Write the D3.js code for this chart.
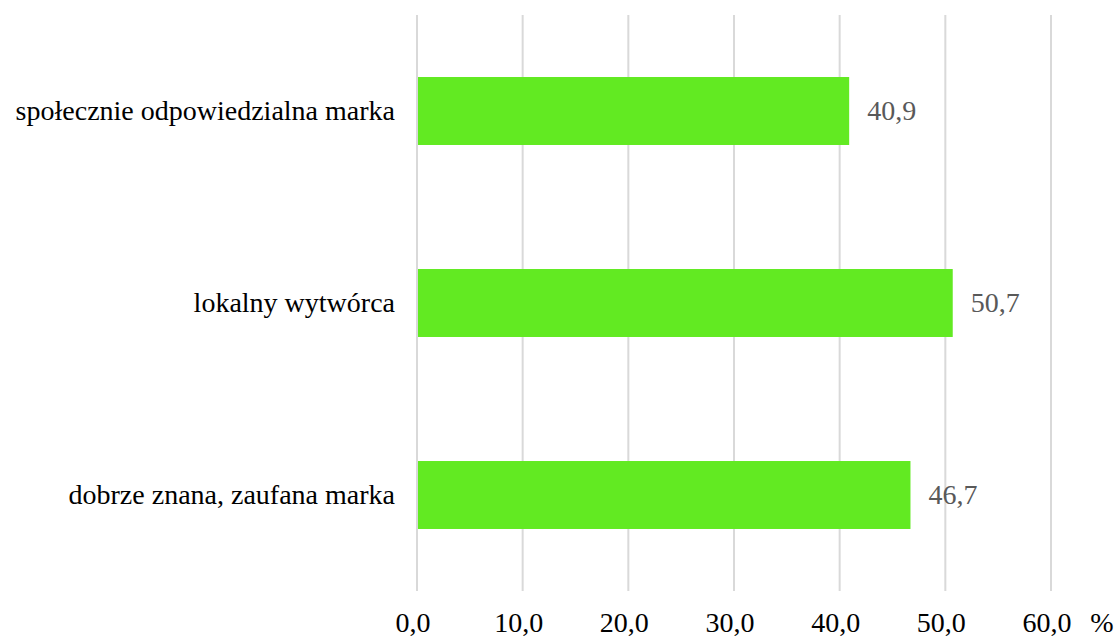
<!DOCTYPE html>
<html>
<head>
<meta charset="utf-8">
<script src="https://cdn.jsdelivr.net/npm/d3@7"></script>
<style>
  body { margin: 0; background: #fff; }
  svg text { font-family: 'Liberation Serif', 'Times New Roman', serif; }
</style>
</head>
<body>
<div id="chart"></div>
<script>
// data
const categories = ["społecznie odpowiedzialna marka", "lokalny wytwórca", "dobrze znana, zaufana marka"];
const values = [40.9, 50.7, 46.7];
const ticks = [0, 10, 20, 30, 40, 50, 60];

const width = 1114, height = 639;

const svg = d3.select("#chart")
  .append("svg")
  .attr("width", width)
  .attr("height", height);

const x = d3.scaleLinear().domain([0, 60]).range([417, 1051]);
const y = d3.scaleBand()
  .domain(categories)
  .range([15, 591])
  .paddingInner(0.646)
  .paddingOuter(0.323);

// gridlines
svg.append("g")
  .selectAll("line")
  .data(ticks)
  .join("line")
  .attr("x1", (d) => x(d))
  .attr("x2", (d) => x(d))
  .attr("y1", 15)
  .attr("y2", 591)
  .attr("stroke", "#d9d9d9")
  .attr("stroke-width", 2);

// tick labels
svg.append("g")
  .selectAll("text")
  .data(ticks)
  .join("text")
  .attr("x", (d) => x(d) - 4)
  .attr("y", 632)
  .attr("text-anchor", "middle")
  .attr("font-size", 28)
  .attr("fill", "#000")
  .text((d) => d.toFixed(1).replace(".", ","));

svg.append("text")
  .attr("x", 1102)
  .attr("y", 632)
  .attr("text-anchor", "middle")
  .attr("font-size", 28)
  .text("%");

const rows = categories.map((c, i) => ({ cat: c, val: values[i] }));

// bars
svg.append("g")
  .selectAll("rect")
  .data(rows)
  .join("rect")
  .attr("x", x(0) + 1)
  .attr("y", (d) => y(d.cat))
  .attr("width", (d) => x(d.val) - x(0) - 1)
  .attr("height", y.bandwidth())
  .attr("fill", "#62ea22");

// category labels
svg.append("g")
  .selectAll("text")
  .data(rows)
  .join("text")
  .attr("x", 395)
  .attr("y", (d) => y(d.cat) + y.bandwidth() / 2)
  .attr("dy", "0.32em")
  .attr("text-anchor", "end")
  .attr("font-size", 28)
  .attr("fill", "#000")
  .text((d) => d.cat);

// value labels
svg.append("g")
  .selectAll("text")
  .data(rows)
  .join("text")
  .attr("x", (d) => x(d.val) + 18)
  .attr("y", (d) => y(d.cat) + y.bandwidth() / 2)
  .attr("dy", "0.32em")
  .attr("font-size", 28)
  .attr("fill", "#595959")
  .text((d) => d.val.toFixed(1).replace(".", ","));
</script>
</body>
</html>
